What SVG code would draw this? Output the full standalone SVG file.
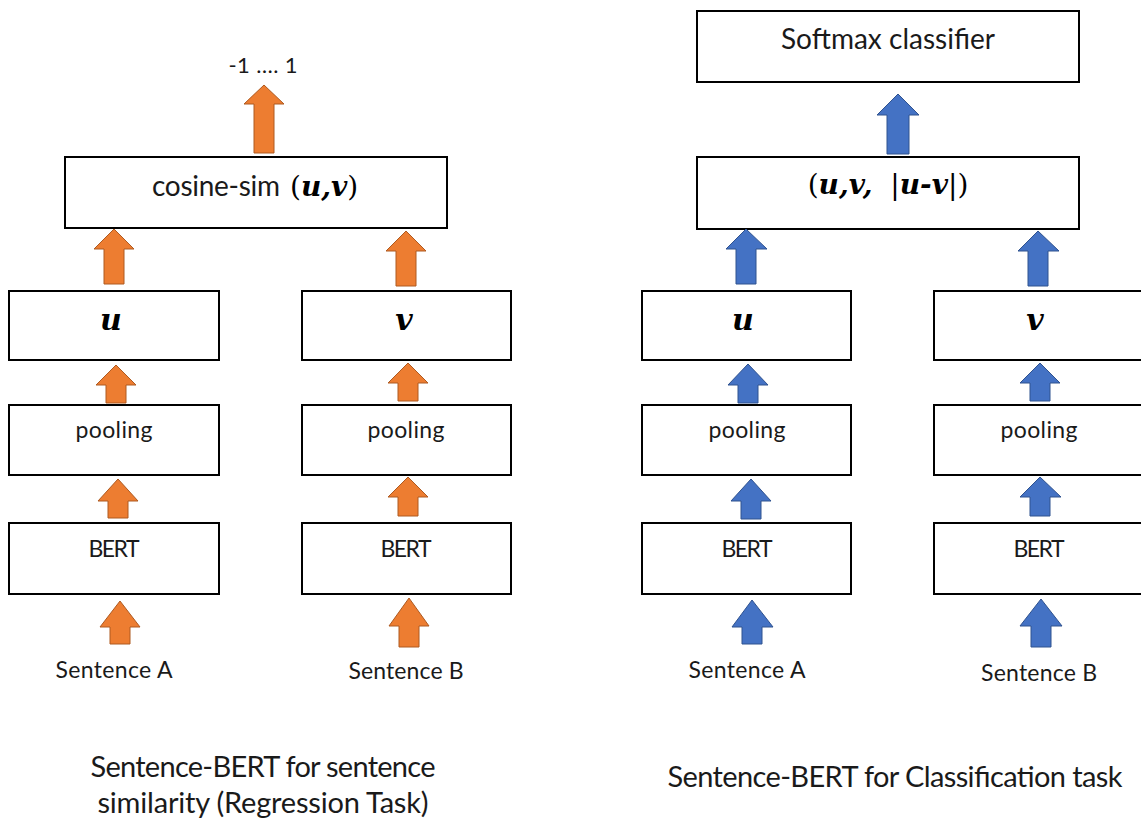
<svg xmlns="http://www.w3.org/2000/svg" width="1141" height="825" viewBox="0 0 1141 825">
  <style>
    .box { fill: #ffffff; stroke: #000000; stroke-width: 2; }
    .lbl { font-family: Lato, "Open Sans", sans-serif; fill: #1a1a1a; text-anchor: middle; }
    .sm { font-size: 23px; }
    .lg { font-size: 29px; }
    .math { font-family: "DejaVu Serif", "Liberation Serif", serif; fill: #000000; }
    .bi { font-style: italic; font-weight: bold; }
    .orange { fill: #ED7D31; stroke: #AE5A21; stroke-width: 1; }
    .blue { fill: #4472C4; stroke: #2F528F; stroke-width: 1; }
  </style>

  <rect width="1141" height="825" fill="#ffffff"/>

  <!-- Regression branch (left) -->
  <g id="cosine-sim">
    <rect class="box" x="65" y="157" width="382" height="71"/>
    <text class="lbl" x="152" y="196" font-size="28" style="text-anchor:start" textLength="128">cosine-sim</text>
    <text class="math" x="290" y="196" font-size="28"><tspan>(</tspan><tspan class="bi">u</tspan><tspan class="bi">,</tspan><tspan class="bi">v</tspan><tspan>)</tspan></text>
  </g>
  <g id="output-range">
    <text class="lbl" x="263" y="73" font-size="22" textLength="69">-1 …. 1</text>
  </g>
  <g id="u-left">
    <rect class="box" x="9" y="291" width="210" height="69"/>
    <text class="math bi" x="111" y="330" font-size="30" text-anchor="middle">u</text>
  </g>
  <g id="v-left">
    <rect class="box" x="302" y="291" width="209" height="69"/>
    <text class="math bi" x="404" y="330" font-size="30" text-anchor="middle">v</text>
  </g>
  <g id="pooling-a-left">
    <rect class="box" x="9" y="405" width="210" height="70"/>
    <text class="lbl sm" x="114" y="438" textLength="77">pooling</text>
  </g>
  <g id="pooling-b-left">
    <rect class="box" x="302" y="405" width="209" height="70"/>
    <text class="lbl sm" x="406" y="438" textLength="77">pooling</text>
  </g>
  <g id="bert-a-left">
    <rect class="box" x="9" y="523" width="210" height="71"/>
    <text class="lbl sm" x="114" y="557" textLength="51">BERT</text>
  </g>
  <g id="bert-b-left">
    <rect class="box" x="302" y="523" width="209" height="71"/>
    <text class="lbl sm" x="406" y="557" textLength="51">BERT</text>
  </g>
  <g id="sentence-a-left">
    <text class="lbl sm" x="114" y="678" textLength="117">Sentence A</text>
  </g>
  <g id="sentence-b-left">
    <text class="lbl sm" x="406" y="679" textLength="115">Sentence B</text>
  </g>
  <g id="caption-left">
    <text class="lbl lg" x="263" y="777" textLength="345">Sentence-BERT for sentence</text>
    <text class="lbl lg" x="263" y="813" textLength="331">similarity (Regression Task)</text>
  </g>

  <!-- Classification branch (right) -->
  <g id="softmax">
    <rect class="box" x="697" y="11" width="382" height="71"/>
    <text class="lbl" x="888" y="49" font-size="28" textLength="214">Softmax classifier</text>
  </g>
  <g id="concat">
    <rect class="box" x="697" y="157" width="382" height="72"/>
    <text class="math" x="888" y="194" font-size="28" text-anchor="middle"><tspan>(</tspan><tspan class="bi">u</tspan><tspan class="bi">,</tspan><tspan class="bi">v</tspan><tspan class="bi">,</tspan><tspan xml:space="preserve">  |</tspan><tspan class="bi">u</tspan><tspan class="bi">-</tspan><tspan class="bi">v</tspan><tspan>|)</tspan></text>
  </g>
  <g id="u-right">
    <rect class="box" x="642" y="291" width="209" height="69"/>
    <text class="math bi" x="743" y="330" font-size="30" text-anchor="middle">u</text>
  </g>
  <g id="v-right">
    <rect class="box" x="934" y="291" width="210" height="69"/>
    <text class="math bi" x="1035" y="330" font-size="30" text-anchor="middle">v</text>
  </g>
  <g id="pooling-a-right">
    <rect class="box" x="642" y="405" width="209" height="70"/>
    <text class="lbl sm" x="747" y="438" textLength="77">pooling</text>
  </g>
  <g id="pooling-b-right">
    <rect class="box" x="934" y="405" width="210" height="70"/>
    <text class="lbl sm" x="1039" y="438" textLength="77">pooling</text>
  </g>
  <g id="bert-a-right">
    <rect class="box" x="642" y="523" width="209" height="71"/>
    <text class="lbl sm" x="747" y="557" textLength="51">BERT</text>
  </g>
  <g id="bert-b-right">
    <rect class="box" x="934" y="523" width="210" height="71"/>
    <text class="lbl sm" x="1039" y="557" textLength="51">BERT</text>
  </g>
  <g id="sentence-a-right">
    <text class="lbl sm" x="747" y="678" textLength="117">Sentence A</text>
  </g>
  <g id="sentence-b-right">
    <text class="lbl sm" x="1039" y="681" textLength="116">Sentence B</text>
  </g>
  <g id="caption-right">
    <text class="lbl lg" x="895" y="787" textLength="455">Sentence-BERT for Classification task</text>
  </g>

  <!-- Block arrows: tip, head base, shaft base -->
  <g id="connectors">
    <g class="orange">
      <polygon points="264,85 284,104 274,104 274,153 254,153 254,104 244,104"/>
      <polygon points="114,229 134,249 124,249 124,284 104,284 104,249 94,249"/>
      <polygon points="406,231 426,251 416,251 416,286 396,286 396,251 386,251"/>
      <polygon points="116,365 136,385 126,385 126,403 106,403 106,385 96,385"/>
      <polygon points="408,363 428,383 418,383 418,401 398,401 398,383 388,383"/>
      <polygon points="118,479 138,501 128,501 128,518 108,518 108,501 98,501"/>
      <polygon points="408,477 428,497 418,497 418,516 398,516 398,497 388,497"/>
      <polygon points="120,601 140,627 130,627 130,644 110,644 110,627 100,627"/>
      <polygon points="409,598 429,626 419,626 419,647 399,647 399,626 389,626"/>
    </g>
    <g class="blue">
      <polygon points="898,94 919,115 909,115 909,154 887,154 887,115 877,115"/>
      <polygon points="746,229 767,249 756,249 756,284 736,284 736,249 726,249"/>
      <polygon points="1038,231 1059,251 1048,251 1048,286 1028,286 1028,251 1018,251"/>
      <polygon points="748,364 768,385 758,385 758,403 738,403 738,385 728,385"/>
      <polygon points="1040,363 1060,383 1050,383 1050,401 1030,401 1030,383 1020,383"/>
      <polygon points="751,479 771,501 761,501 761,519 741,519 741,501 731,501"/>
      <polygon points="1040,477 1061,497 1050,497 1050,516 1030,516 1030,497 1020,497"/>
      <polygon points="752,600 773,627 762,627 762,644 742,644 742,627 732,627"/>
      <polygon points="1041,599 1062,626 1051,626 1051,647 1031,647 1031,626 1020,626"/>
    </g>
  </g>
</svg>
